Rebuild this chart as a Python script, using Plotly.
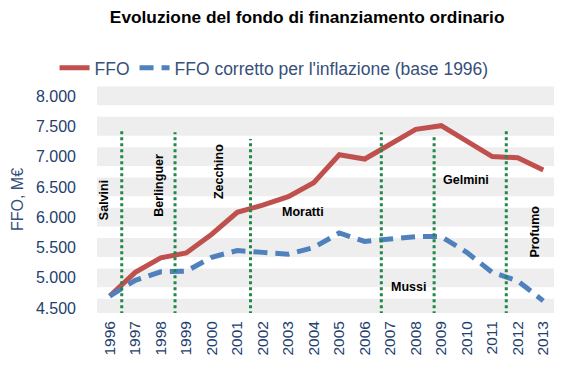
import plotly.graph_objects as go

years = [str(y) for y in range(1996, 2014)]
ffo = [4700, 5090, 5330, 5410, 5720, 6080, 6200, 6340, 6570, 7030, 6960, 7200,
       7450, 7510, 7250, 7000, 6980, 6780]
ffo_real = [4700, 4960, 5100, 5110, 5340, 5450, 5420, 5390, 5500, 5740, 5600, 5640,
            5680, 5680, 5420, 5090, 4950, 4620]
y_ticks = [4500, 5000, 5500, 6000, 6500, 7000, 7500, 8000]
# minister changes (positions in category index units) and labels
changes = [0.47, 2.56, 5.52, 10.65, 12.72, 15.55]
change_tops = [7430, 7400, 7290, 7400, 7350, 7440]
ministers = ["Salvini", "Berlinguer", "Zecchino", "Moratti", "Mussi", "Gelmini", "Profumo"]
minister_x = [-0.24, 1.93, 4.29, 7.56, 11.73, 13.98, 16.69]
minister_y = [6275, 6536, 6748, 6080, 4842, 6617, 5770]
minister_rot = [-90, -90, -90, 0, 0, 0, -90]

fig = go.Figure()
fig.add_trace(go.Scatter(x=years, y=ffo, mode="lines", name="FFO",
                         line=dict(color="#c0504d", width=5)))
fig.add_trace(go.Scatter(x=years, y=ffo_real, mode="lines",
                         name="FFO corretto per l'inflazione (base 1996)",
                         line=dict(color="#4f81bd", width=5, dash="14px,8px")))

shapes = []
for t in y_ticks:
    shapes.append(dict(type="rect", xref="paper", x0=0, x1=1, yref="y",
                       y0=t - 155, y1=t + 155, fillcolor="#eeeeee",
                       line=dict(width=0), layer="below"))
for cx, top in zip(changes, change_tops):
    shapes.append(dict(type="line", xref="x", x0=cx, x1=cx, yref="y",
                       y0=4400, y1=top,
                       line=dict(color="#22884a", width=3, dash="dot")))

annotations = []
for name, ax, ay, rot in zip(ministers, minister_x, minister_y, minister_rot):
    annotations.append(dict(x=ax, y=ay, xref="x", yref="y", text=name,
                            showarrow=False, textangle=rot,
                            font=dict(family="Liberation Sans, Arial", size=12.5,
                                      color="black", weight="bold"),
                            xanchor="center", yanchor="middle"))

# page body has an 8px margin, so the figure is 8px smaller and shifted
fig.update_layout(
    width=554, height=359,
    margin=dict(l=89, r=6, t=75, b=54),
    paper_bgcolor="white", plot_bgcolor="white",
    separators=",.",
    shapes=shapes, annotations=annotations,
    title=dict(text="<b>Evoluzione del fondo di finanziamento ordinario</b>",
               x=0.54, xanchor="center", y=0.975, yanchor="middle",
               xref="container", yref="container",
               font=dict(family="Liberation Sans, Arial", size=17.3, color="black"),
               automargin=False),
    legend=dict(orientation="h", x=0.084, xanchor="left", y=0.833, yanchor="middle",
                xref="container", yref="container",
                font=dict(family="Liberation Sans, Arial", size=17.5, color="#36507a"),
                itemwidth=30, bgcolor="rgba(0,0,0,0)", tracegroupgap=0),
    font=dict(family="Liberation Sans, Arial"),
)
fig.update_xaxes(type="category", range=[-0.5, 17.5], showgrid=False, showline=False,
                 zeroline=False, tickangle=-90, ticks="", automargin=False,
                 tickfont=dict(size=15.5, color="#23406e"), ticklabelstandoff=4)
fig.update_yaxes(range=[4420, 8165], tickvals=y_ticks, tickformat=",d",
                 showgrid=False, zeroline=False, showline=False, ticks="",
                 automargin=False,
                 tickfont=dict(size=16, color="#23406e"), ticklabelstandoff=20,
                 title=dict(text="FFO, M€", font=dict(size=16, color="#36507a"),
                            standoff=8))

fig.write_html("out.html")
